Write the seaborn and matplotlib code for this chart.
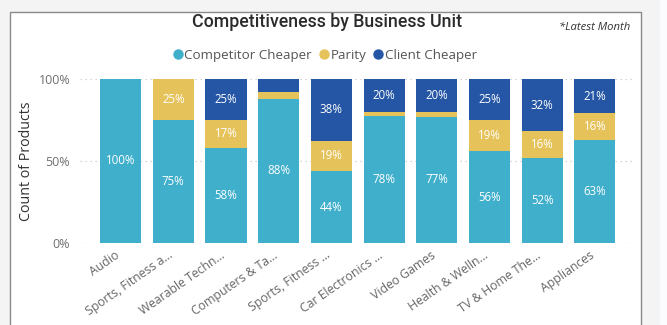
import matplotlib
matplotlib.use("Agg")
import matplotlib.pyplot as plt
import matplotlib.transforms as mtransforms
from matplotlib.patches import Rectangle
from matplotlib.lines import Line2D
import seaborn as sns
import pandas as pd
import numpy as np

categories = ["Audio", "Sports, Fitness a...", "Wearable Techn...", "Computers & Ta...",
              "Sports, Fitness ...", "Car Electronics ...", "Video Games", "Health & Welln...",
              "TV & Home The...", "Appliances"]
competitor_cheaper = [100, 75, 58, 88, 43.75, 77.5, 77, 56, 52, 63]
parity = [0, 25, 17, 4, 18.75, 2.5, 3, 19, 16, 16]
client_cheaper = [0, 0, 25, 8, 37.5, 20, 20, 25, 32, 21]
series_names = ["Competitor Cheaper", "Parity", "Client Cheaper"]
colors = ["#3FAFCC", "#E6C25A", "#2456A5"]

sns.set_theme(style="white")
plt.rcParams["font.family"] = ["Open Sans", "DejaVu Sans"]

W, H = 667, 325
fig = plt.figure(figsize=(W / 100, H / 100), dpi=100)
fig.patch.set_facecolor("#F4F4F4")

# card frame
fig.patches.append(Rectangle((10 / W, -0.05), (641 - 10) / W, (325 - 12) / H + 0.05,
                             transform=fig.transFigure, facecolor="white",
                             edgecolor="#8A8A8A", lw=1.0, zorder=-5))
fig.patches.append(Rectangle((660 / W, 0), 7 / W, 1, transform=fig.transFigure,
                             facecolor="#FBFCFD", edgecolor="none", zorder=-5))

ax = fig.add_axes([80 / W, (325 - 243) / H, (635 - 80) / W, (243 - 79) / H])
ax.set_facecolor("none")
ax.set_zorder(2)

df = pd.DataFrame({
    "category": categories,
    "comp": competitor_cheaper,
    "par": parity,
    "cli": client_cheaper,
})
df["top"] = df["comp"] + df["par"] + df["cli"]
df["mid"] = df["comp"] + df["par"]

for col, c in zip(["top", "mid", "comp"], [colors[2], colors[1], colors[0]]):
    sns.barplot(data=df, x="category", y=col, color=c, width=0.78, ax=ax,
                saturation=1, edgecolor="none", linewidth=0, zorder=2)

ax.set_xlim(-0.77, 9.76)
ax.set_ylim(0, 100)
for yv in [0, 50, 100]:
    ax.axhline(yv, color="#C8C8C8", lw=0.9, ls=(0, (1, 3)), zorder=1)

# segment labels
for i in range(len(categories)):
    bottoms = [0, competitor_cheaper[i], competitor_cheaper[i] + parity[i]]
    vals = [competitor_cheaper[i], parity[i], client_cheaper[i]]
    for b, v in zip(bottoms, vals):
        if v >= 10:
            ax.text(i, b + v / 2, f"{int(np.floor(v + 0.5))}%", ha="center", va="center",
                    color="white", fontsize=8.3, zorder=3)

ax.set_yticks([0, 50, 100])
ax.set_yticklabels(["0%", "50%", "100%"], color="#707070", fontsize=9)
ax.tick_params(axis="y", length=0, pad=7)
ax.tick_params(axis="x", length=0, pad=2)
ax.set_xticks(range(len(categories)))
ax.set_xticklabels(categories, rotation=35, ha="right", rotation_mode="anchor",
                   color="#666666", fontsize=8.8)
offset = mtransforms.ScaledTranslation(-6 / 100, -3 / 100, fig.dpi_scale_trans)
for lbl in ax.get_xticklabels():
    lbl.set_transform(lbl.get_transform() + offset)

ax.set_xlabel("")
ax.set_ylabel("Count of Products", fontsize=10.3, color="#333333")
ax.yaxis.set_label_coords((34 - 80) / 555, 0.5)
sns.despine(ax=ax, left=True, bottom=True, right=True, top=True)

fig.text(327 / W, 1 - 22 / H, "Competitiveness by Business Unit", ha="center", va="center",
         fontsize=12.8, color="#2B2B2B", fontweight="medium", family=["Roboto", "DejaVu Sans"])
fig.text(630 / W, 1 - 27 / H, "*Latest Month", ha="right", va="center", fontsize=8.1,
         color="#333333", style="italic")

handles = [Line2D([0], [0], marker="o", ls="none", markersize=7.5, markerfacecolor=c,
                  markeredgecolor="none") for c in colors]
fig.legend(handles, series_names, loc="center", bbox_to_anchor=(324 / W, 1 - 55 / H),
           ncol=3, frameon=False, fontsize=9.6, handletextpad=0.0, columnspacing=0.4,
           labelcolor="#555555", handlelength=1.0)

fig.savefig("out.png", dpi=100, facecolor=fig.get_facecolor())
